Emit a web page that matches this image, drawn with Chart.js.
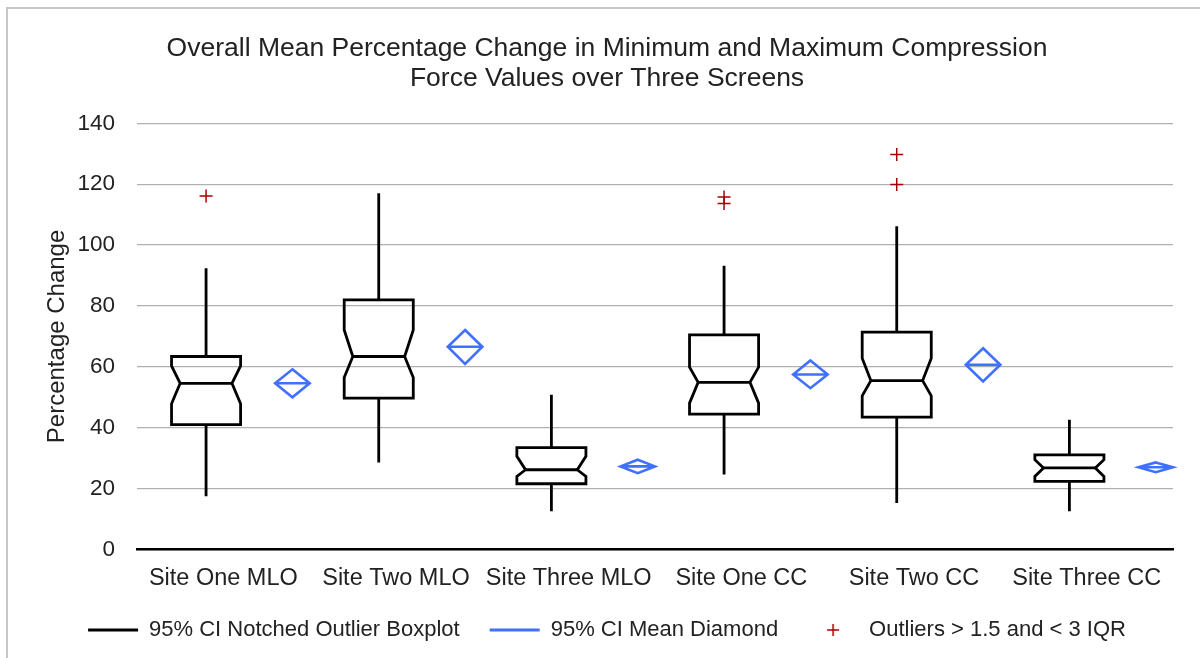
<!DOCTYPE html>
<html>
<head>
<meta charset="utf-8">
<script src="https://cdn.jsdelivr.net/npm/chart.js@4.4.1/dist/chart.umd.min.js"></script>
<style>
  html, body { margin: 0; padding: 0; background: #fff; }
  #wrap { width: 1200px; height: 658px; position: relative; }
</style>
</head>
<body>
<div id="wrap"><canvas id="boxChart"></canvas></div>
<script>
// ========================== Datos
const siteLabels = ["Site One MLO", "Site Two MLO", "Site Three MLO", "Site One CC", "Site Two CC", "Site Three CC"];
const whiskerHigh = [92.4, 117.0, 50.8, 93.2, 106.2, 42.6];
const q3Values = [63.4, 82.0, 33.5, 70.5, 71.4, 31.1];
const notchHigh = [60.3, 72.1, 30.6, 59.9, 62.8, 29.5];
const medianValues = [54.6, 63.4, 26.2, 54.9, 55.5, 26.8];
const notchLow = [47.9, 56.5, 24.0, 48.1, 50.5, 24.0];
const q1Values = [41.0, 49.7, 21.6, 44.5, 43.5, 22.4];
const whiskerLow = [17.5, 28.6, 12.6, 24.6, 15.3, 12.6];
const meanValues = [54.6, 66.6, 27.3, 57.5, 60.7, 27.0];
const meanLow = [50.0, 61.0, 25.1, 53.0, 55.2, 25.4];
const meanHigh = [59.2, 72.1, 29.5, 62.1, 66.1, 28.6];
const outlierSite = [0, 3, 3, 4, 4];
const outlierValues = [116.1, 115.8, 113.7, 129.8, 119.9];
const yTicks = [0, 20, 40, 60, 80, 100, 120, 140];

const FONT = "'Liberation Sans', Arial, sans-serif";
const TEXT = "#222222";
const BOX_HALF = 0.2, NOTCH_HALF = 0.15, DIAMOND_HALF = 0.1, DIAMOND_SHIFT = 0.5;

// ========================== Marco del área del gráfico
const framePlugin = {
    id: "frame",
    beforeDraw(chart) {
        const ctx = chart.ctx;
        ctx.save();
        ctx.fillStyle = "#ffffff";
        ctx.fillRect(0, 0, chart.width, chart.height);
        ctx.strokeStyle = "#c6c6c6";
        ctx.lineWidth = 2;
        ctx.strokeRect(7, 8, chart.width + 40, chart.height + 40);
        ctx.restore();
    }
};

// ========================== Cajas con muesca y diamantes de la media
const boxPlugin = {
    id: "notchedBoxes",
    afterDatasetsDraw(chart) {
        const xs = chart.scales.xs, ys = chart.scales.y, ctx = chart.ctx;
        const Y = v => ys.getPixelForValue(v);
        ctx.save();
        ctx.lineJoin = "miter";
        siteLabels.forEach((lab, i) => {
            const xc = xs.getPixelForValue(i);
            const xl = xs.getPixelForValue(i - BOX_HALF), xr = xs.getPixelForValue(i + BOX_HALF);
            const nl = xs.getPixelForValue(i - NOTCH_HALF), nr = xs.getPixelForValue(i + NOTCH_HALF);

            ctx.strokeStyle = "#000000";
            ctx.lineWidth = 2.8;
            // bigotes
            ctx.beginPath();
            ctx.moveTo(xc, Y(q3Values[i])); ctx.lineTo(xc, Y(whiskerHigh[i]));
            ctx.moveTo(xc, Y(q1Values[i])); ctx.lineTo(xc, Y(whiskerLow[i]));
            ctx.stroke();
            // caja
            ctx.beginPath();
            ctx.moveTo(xl, Y(q3Values[i]));
            ctx.lineTo(xr, Y(q3Values[i]));
            ctx.lineTo(xr, Y(notchHigh[i]));
            ctx.lineTo(nr, Y(medianValues[i]));
            ctx.lineTo(xr, Y(notchLow[i]));
            ctx.lineTo(xr, Y(q1Values[i]));
            ctx.lineTo(xl, Y(q1Values[i]));
            ctx.lineTo(xl, Y(notchLow[i]));
            ctx.lineTo(nl, Y(medianValues[i]));
            ctx.lineTo(xl, Y(notchHigh[i]));
            ctx.closePath();
            ctx.stroke();
            // mediana
            ctx.beginPath();
            ctx.moveTo(nl, Y(medianValues[i])); ctx.lineTo(nr, Y(medianValues[i]));
            ctx.stroke();

            // diamante
            const dc = xs.getPixelForValue(i + DIAMOND_SHIFT);
            const dl = xs.getPixelForValue(i + DIAMOND_SHIFT - DIAMOND_HALF);
            const dr = xs.getPixelForValue(i + DIAMOND_SHIFT + DIAMOND_HALF);
            ctx.strokeStyle = "#3f70ff";
            ctx.lineWidth = 2.6;
            ctx.beginPath();
            ctx.moveTo(dc, Y(meanHigh[i]));
            ctx.lineTo(dr, Y(meanValues[i]));
            ctx.lineTo(dc, Y(meanLow[i]));
            ctx.lineTo(dl, Y(meanValues[i]));
            ctx.closePath();
            ctx.moveTo(dl, Y(meanValues[i])); ctx.lineTo(dr, Y(meanValues[i]));
            ctx.stroke();
        });
        ctx.restore();
    }
};

// símbolo "+" para la leyenda de los valores atípicos
const crossGlyph = document.createElement("canvas");
crossGlyph.width = 14;
crossGlyph.height = 14;
(function () {
    const g = crossGlyph.getContext("2d");
    g.strokeStyle = "#a80000";
    g.lineWidth = 1.5;
    g.beginPath();
    g.moveTo(1, 7); g.lineTo(13, 7);
    g.moveTo(7, 1); g.lineTo(7, 13);
    g.stroke();
})();

const outlierPoints = outlierSite.map((s, k) => ({ x: s, y: outlierValues[k] }));

new Chart(document.getElementById("boxChart"), {
    type: "line",
    data: {
        labels: siteLabels,
        datasets: [
            {
                label: "95% CI Notched Outlier Boxplot",
                data: [],
                xAxisID: "xs",
                borderColor: "#000000",
                backgroundColor: "#000000",
                borderWidth: 3,
                pointStyle: "line"
            },
            {
                label: "95% CI Mean Diamond",
                data: [],
                xAxisID: "xs",
                borderColor: "#3f70ff",
                backgroundColor: "#3f70ff",
                borderWidth: 3,
                pointStyle: "line"
            },
            {
                label: "Outliers > 1.5 and < 3 IQR",
                data: outlierPoints,
                xAxisID: "xs",
                showLine: false,
                borderColor: "#a80000",
                backgroundColor: "#a80000",
                borderWidth: 1.5,
                pointStyle: "cross",
                pointRadius: 6.5,
                pointBorderWidth: 1.5
            }
        ]
    },
    options: {
        responsive: true,
        maintainAspectRatio: false,
        animation: false,
        layout: { padding: { left: 41, right: 27, top: 0, bottom: 7 } },
        scales: {
            x: {
                type: "category",
                offset: true,
                grid: { display: false, drawTicks: false },
                border: { display: true, color: "#000000", width: 2.5 },
                ticks: { color: TEXT, font: { family: FONT, size: 23.5 }, padding: 15, maxRotation: 0, autoSkip: false },
                afterFit: axis => { axis.height = 39.5; }
            },
            xs: {
                type: "linear",
                display: false,
                min: -0.4,
                max: 5.6
            },
            y: {
                min: 0,
                max: 140,
                afterBuildTicks: axis => { axis.ticks = yTicks.map(v => ({ value: v })); },
                afterFit: axis => { axis.width = 96; },
                grid: { color: "#b0b0b0", lineWidth: 1.3, drawTicks: false },
                border: { display: false },
                ticks: { color: TEXT, font: { family: FONT, size: 22.5 }, padding: 22 },
                title: {
                    display: true,
                    text: "Percentage Change",
                    color: TEXT,
                    font: { family: FONT, size: 24 },
                    padding: { top: 2, bottom: 0 }
                }
            }
        },
        plugins: {
            title: {
                display: true,
                text: ["Overall Mean Percentage Change in Minimum and Maximum Compression", "Force Values over Three Screens"],
                color: TEXT,
                font: { family: FONT, size: 26.5, weight: "normal", lineHeight: 1.12 },
                padding: { top: 34, bottom: 30 }
            },
            legend: {
                position: "bottom",
                labels: {
                    color: TEXT,
                    font: { family: FONT, size: 22 },
                    usePointStyle: true,
                    pointStyleWidth: 50,
                    boxHeight: 9,
                    padding: 30,
                    generateLabels(chart) {
                        const items = Chart.defaults.plugins.legend.labels.generateLabels(chart);
                        items[2].pointStyle = crossGlyph;
                        return items;
                    }
                }
            },
            tooltip: { enabled: false }
        }
    },
    plugins: [framePlugin, boxPlugin]
});
</script>
</body>
</html>
